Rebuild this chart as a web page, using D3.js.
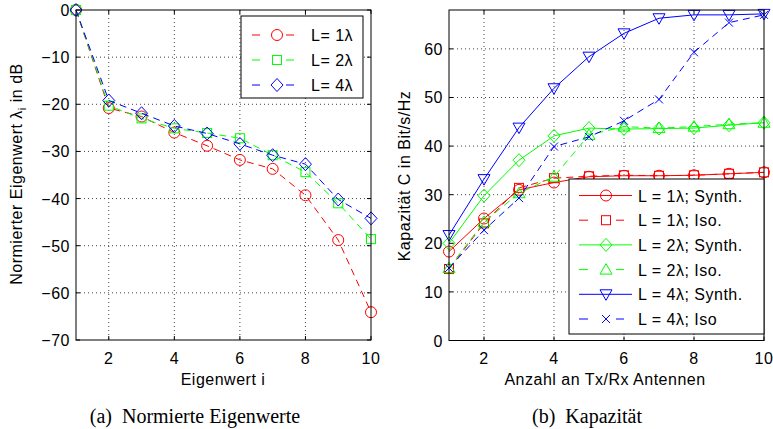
<!DOCTYPE html>
<html>
<head>
<meta charset="utf-8">
<script src="https://cdn.jsdelivr.net/npm/d3@7"></script>
<style>
  body { margin: 0; background: #fff; }
  svg { display: block; }
  text { font-family: "Liberation Sans", Arial, sans-serif; letter-spacing: 0.5px; }
  text.cap { font-family: "Liberation Serif", "Times New Roman", serif; letter-spacing: 0; }
</style>
</head>
<body>
<script>
// ---- data ----
var eigIdx = [1, 2, 3, 4, 5, 6, 7, 8, 9, 10];
var eigL1 = [0, -20.8, -22.6, -26.0, -28.8, -31.8, -33.7, -39.3, -48.8, -64.1];
var eigL2 = [0, -20.3, -23.0, -25.1, -26.1, -27.2, -30.8, -34.4, -41.0, -48.6];
var eigL4 = [0, -19.2, -21.9, -24.6, -26.2, -28.4, -30.8, -32.7, -40.2, -44.2];
var eigNames = ["L= 1\u03bb", "L= 2\u03bb", "L= 4\u03bb"];

var antN = [1, 2, 3, 4, 5, 6, 7, 8, 9, 10];
var capL1Synth = [18.3, 25.1, 31.0, 32.5, 33.7, 33.9, 33.9, 34.0, 34.3, 34.6];
var capL1Iso   = [14.7, 24.1, 31.4, 33.4, 33.8, 34.0, 33.9, 34.0, 34.3, 34.6];
var capL2Synth = [20.0, 29.8, 37.1, 42.1, 43.7, 43.5, 43.6, 43.7, 44.3, 44.8];
var capL2Iso   = [14.9, 24.4, 30.3, 33.7, 42.3, 44.0, 43.7, 44.0, 44.5, 44.8];
var capL4Synth = [21.7, 33.2, 43.8, 51.9, 58.4, 63.2, 66.3, 67.0, 67.0, 67.2];
var capL4Iso   = [14.9, 22.7, 29.3, 39.9, 41.9, 45.2, 49.6, 59.3, 65.4, 67.0];
var capNames = ["L = 1\u03bb; Synth.", "L = 1\u03bb; Iso.", "L = 2\u03bb; Synth.",
                "L = 2\u03bb; Iso.", "L = 4\u03bb; Synth.", "L = 4\u03bb; Iso"];

var xTicks = [2, 4, 6, 8, 10];
var eigTicks = [0, -10, -20, -30, -40, -50, -60, -70];
var capTicks = [0, 10, 20, 30, 40, 50, 60];

var RED = "#ff0000", GREEN = "#00ff00", BLUE = "#0000ff";
var DASH = "7,5";
var FS = 16;

var svg = d3.select("body").append("svg")
    .attr("width", 773).attr("height", 429);

// marker drawing
function marker(g, type, color, x, y) {
    var m;
    if (type === "circle") {
        m = g.append("circle").attr("cx", x).attr("cy", y).attr("r", 5.5);
    } else if (type === "square") {
        m = g.append("rect").attr("x", x - 4.5).attr("y", y - 4.5).attr("width", 9).attr("height", 9);
    } else if (type === "diamond") {
        m = g.append("path").attr("d", `M${x},${y - 6.5}L${x + 6},${y}L${x},${y + 6.5}L${x - 6},${y}Z`);
    } else if (type === "tridown") {
        m = g.append("path").attr("d", `M${x - 6},${y - 4.5}L${x + 6},${y - 4.5}L${x},${y + 6}Z`);
    } else if (type === "triup") {
        m = g.append("path").attr("d", `M${x - 6},${y + 4.5}L${x + 6},${y + 4.5}L${x},${y - 6}Z`);
    } else if (type === "x") {
        m = g.append("path").attr("d", `M${x - 4},${y - 4}L${x + 4},${y + 4}M${x - 4},${y + 4}L${x + 4},${y - 4}`);
    }
    m.attr("fill", "none").attr("stroke", color).attr("stroke-width", 1);
}

function tickLabel(t) {
    return String(t).replace("-", "\u2212");
}

function drawAxes(x, y, yTicks, left, right, top, bottom) {
    var g = svg.append("g");
    // grid
    xTicks.forEach(function(t) {
        if (t === x.domain()[1]) return;
        g.append("line").attr("x1", x(t)).attr("x2", x(t)).attr("y1", top).attr("y2", bottom)
            .attr("stroke", "#444").attr("stroke-width", 1).attr("stroke-dasharray", "1,3");
    });
    yTicks.forEach(function(t) {
        if (y(t) <= top + 0.5 || y(t) >= bottom - 0.5) return;
        g.append("line").attr("x1", left).attr("x2", right).attr("y1", y(t)).attr("y2", y(t))
            .attr("stroke", "#444").attr("stroke-width", 1).attr("stroke-dasharray", "1,3");
    });
    // inner ticks on all sides
    xTicks.forEach(function(t) {
        g.append("line").attr("x1", x(t)).attr("x2", x(t)).attr("y1", bottom).attr("y2", bottom - 4).attr("stroke", "#000");
        g.append("line").attr("x1", x(t)).attr("x2", x(t)).attr("y1", top).attr("y2", top + 4).attr("stroke", "#000");
        g.append("text").attr("x", x(t)).attr("y", bottom + 23.5).attr("text-anchor", "middle")
            .attr("font-size", FS).text(t);
    });
    yTicks.forEach(function(t) {
        g.append("line").attr("x1", left).attr("x2", left + 4).attr("y1", y(t)).attr("y2", y(t)).attr("stroke", "#000");
        g.append("line").attr("x1", right).attr("x2", right - 4).attr("y1", y(t)).attr("y2", y(t)).attr("stroke", "#000");
        g.append("text").attr("x", left - 6).attr("y", y(t) + 6).attr("text-anchor", "end")
            .attr("font-size", FS).text(tickLabel(t));
    });
    return g;
}

function drawBox(left, right, top, bottom) {
    svg.append("rect").attr("x", left).attr("y", top)
        .attr("width", right - left).attr("height", bottom - top)
        .attr("fill", "none").attr("stroke", "#000").attr("stroke-width", 1);
}

function drawSeries(g, x, y, xs, ys, color, dash, type) {
    var line = d3.line().x(function(d, i) { return x(xs[i]); }).y(function(d) { return y(d); });
    g.append("path").datum(ys).attr("d", line).attr("fill", "none")
        .attr("stroke", color).attr("stroke-width", 1)
        .attr("stroke-dasharray", dash);
    ys.forEach(function(v, i) { marker(g, type, color, x(xs[i]), y(v)); });
}

// ---------- plot (a) ----------
var aL = 76, aR = 371, aT = 10, aB = 340;
var xa = d3.scaleLinear().domain([1, 10]).range([aL, aR]);
var ya = d3.scaleLinear().domain([-70, 0]).range([aB, aT]);
drawAxes(xa, ya, eigTicks, aL, aR, aT, aB);
var sa = svg.append("g");
drawSeries(sa, xa, ya, eigIdx, eigL1, RED, DASH, "circle");
drawSeries(sa, xa, ya, eigIdx, eigL2, GREEN, DASH, "square");
drawSeries(sa, xa, ya, eigIdx, eigL4, BLUE, DASH, "diamond");
drawBox(aL, aR, aT, aB);

// legend (a)
var la = svg.append("g");
la.append("rect").attr("x", 241).attr("y", 16).attr("width", 122).attr("height", 82)
    .attr("fill", "#fff").attr("stroke", "#000");
var aStyles = [[RED, "circle"], [GREEN, "square"], [BLUE, "diamond"]];
eigNames.forEach(function(n, i) {
    var yy = 35 + i * 25;
    la.append("line").attr("x1", 252).attr("x2", 302).attr("y1", yy).attr("y2", yy)
        .attr("stroke", aStyles[i][0]).attr("stroke-dasharray", "8,9");
    la.append("rect").attr("x", 268).attr("y", yy - 7).attr("width", 18).attr("height", 14).attr("fill", "#fff");
    marker(la, aStyles[i][1], aStyles[i][0], 277, yy);
    la.append("text").attr("x", 311).attr("y", yy + 6).attr("font-size", FS).text(n);
});

svg.append("text").attr("x", 223).attr("y", 385).attr("text-anchor", "middle")
    .attr("font-size", FS).text("Eigenwert i");
var yla = svg.append("text").attr("transform", "translate(22,174) rotate(-90)")
    .attr("text-anchor", "middle").attr("font-size", FS);
yla.append("tspan").text("Normierter Eigenwert \u03bb");
yla.append("tspan").attr("font-size", 11).attr("dy", 4).text("i");
yla.append("tspan").attr("dy", -4).text(" in dB");

// ---------- plot (b) ----------
var bL = 449, bR = 764, bT = 10, bB = 340.5;
var xb = d3.scaleLinear().domain([1, 10]).range([bL, bR]);
var yb = d3.scaleLinear().domain([0, 68]).range([bB, bT]);
drawAxes(xb, yb, capTicks, bL, bR, bT, bB);
var sb = svg.append("g");
drawSeries(sb, xb, yb, antN, capL1Synth, RED, null, "circle");
drawSeries(sb, xb, yb, antN, capL1Iso, RED, DASH, "square");
drawSeries(sb, xb, yb, antN, capL2Synth, GREEN, null, "diamond");
drawSeries(sb, xb, yb, antN, capL2Iso, GREEN, DASH, "triup");
drawSeries(sb, xb, yb, antN, capL4Synth, BLUE, null, "tridown");
drawSeries(sb, xb, yb, antN, capL4Iso, BLUE, DASH, "x");
drawBox(bL, bR, bT, bB);

// legend (b)
var lb = svg.append("g");
lb.append("rect").attr("x", 569).attr("y", 179).attr("width", 195).attr("height", 155)
    .attr("fill", "#fff").attr("stroke", "#000");
var bStyles = [[RED, null, "circle"], [RED, "dash", "square"], [GREEN, null, "diamond"],
               [GREEN, "dash", "triup"], [BLUE, null, "tridown"], [BLUE, "dash", "x"]];
capNames.forEach(function(n, i) {
    var yy = 195.5 + i * 24.7;
    var st = bStyles[i];
    lb.append("line").attr("x1", 579).attr("x2", 632).attr("y1", yy).attr("y2", yy)
        .attr("stroke", st[0]).attr("stroke-dasharray", st[1] ? "9,9" : null);
    if (st[1]) lb.append("rect").attr("x", 596).attr("y", yy - 7).attr("width", 20).attr("height", 14).attr("fill", "#fff");
    marker(lb, st[2], st[0], 606, yy);
    lb.append("text").attr("x", 638).attr("y", yy + 6).attr("font-size", FS).text(n);
});

svg.append("text").attr("x", 605).attr("y", 385).attr("text-anchor", "middle")
    .attr("font-size", FS).text("Anzahl an Tx/Rx Antennen");
svg.append("text").attr("transform", "translate(410,176) rotate(-90)")
    .attr("text-anchor", "middle").attr("font-size", FS).text("Kapazit\u00e4t C in Bit/s/Hz");

// captions
svg.append("text").attr("class", "cap").attr("x", 195).attr("y", 423).attr("text-anchor", "middle")
    .attr("font-size", 20).attr("xml:space", "preserve").text("(a)  Normierte Eigenwerte");
svg.append("text").attr("class", "cap").attr("x", 587).attr("y", 423).attr("text-anchor", "middle")
    .attr("font-size", 20).attr("xml:space", "preserve").text("(b)  Kapazit\u00e4t");
</script>
</body>
</html>
